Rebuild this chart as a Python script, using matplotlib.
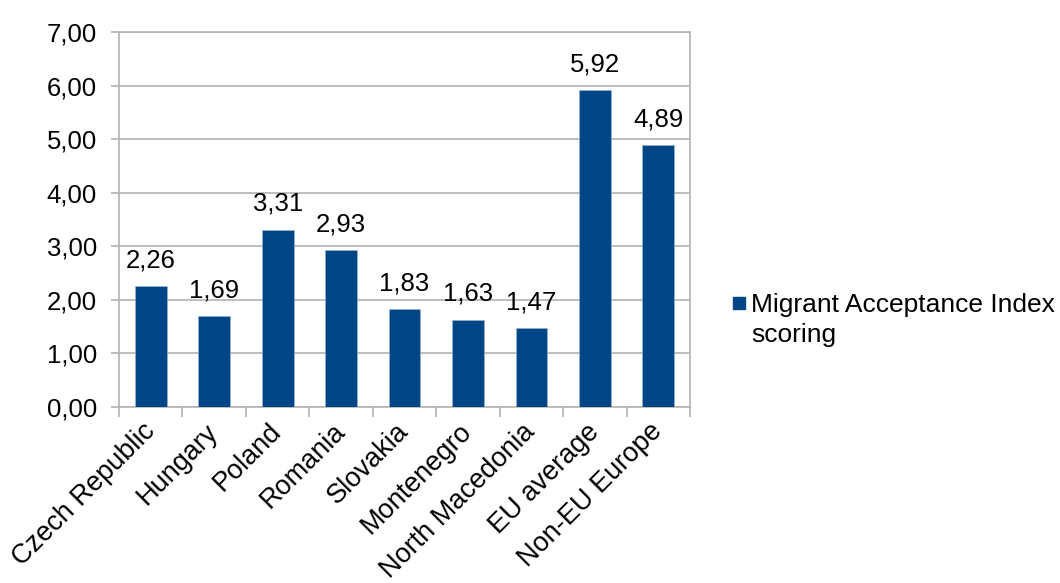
import matplotlib.pyplot as plt
from matplotlib.patches import Rectangle

plt.rcParams['font.family'] = ['Liberation Sans', 'DejaVu Sans']

countries = ['Czech Republic', 'Hungary', 'Poland', 'Romania', 'Slovakia',
             'Montenegro', 'North Macedonia', 'EU average', 'Non-EU Europe']
scores = [2.26, 1.69, 3.31, 2.93, 1.83, 1.63, 1.47, 5.92, 4.89]
yticks = [0, 1, 2, 3, 4, 5, 6, 7]
series_name = 'Migrant Acceptance Index\nscoring'

bar_color = '#004586'
grid_color = '#b3b3b3'
fs = 18.5

fig = plt.figure(figsize=(10.6, 5.83), dpi=100)
ax = fig.add_axes([0.1123, 0.302, 0.5387, 0.643])

x = list(range(len(countries)))
ax.bar(x, scores, width=0.5, color=bar_color, edgecolor='#9fb6d3',
       linewidth=0.4, zorder=3)

for xi, v in zip(x, scores):
    ax.annotate(f'{v:.2f}'.replace('.', ','), (xi, v), xytext=(0, 10),
                textcoords='offset points', ha='center', va='bottom',
                fontsize=fs)

ax.set_xlim(-0.5, len(countries) - 0.5)
ax.set_ylim(0, 7)
ax.set_yticks(yticks)
ax.set_yticklabels([f'{t:.2f}'.replace('.', ',') for t in yticks], fontsize=fs)
ax.yaxis.grid(True, color=grid_color, linewidth=1.2, zorder=0)
ax.tick_params(axis='y', length=6, color=grid_color, width=1.2, pad=10)

ax.set_xticks(x)
ax.set_xticklabels(countries, rotation=45, ha='right', va='center',
                   rotation_mode='anchor', fontsize=19.5)
ax.set_xticks([i - 0.5 for i in range(len(countries) + 1)], minor=True)
ax.tick_params(axis='x', which='major', length=0, pad=15)
ax.tick_params(axis='x', which='minor', length=7, color=grid_color, width=1.2)

for s in ax.spines.values():
    s.set_color(grid_color)
    s.set_linewidth(1.2)

# legend: small square next to the first line of the series name
fig.patches.append(Rectangle((733 / 1060, 1 - 309 / 583), 12 / 1060, 12 / 583,
                             transform=fig.transFigure, color=bar_color))
fig.text(751 / 1060, 1 - 342 / 583, series_name, fontsize=19,
         ha='left', va='baseline', linespacing=1.3)

fig.savefig('out.png', dpi=100)
